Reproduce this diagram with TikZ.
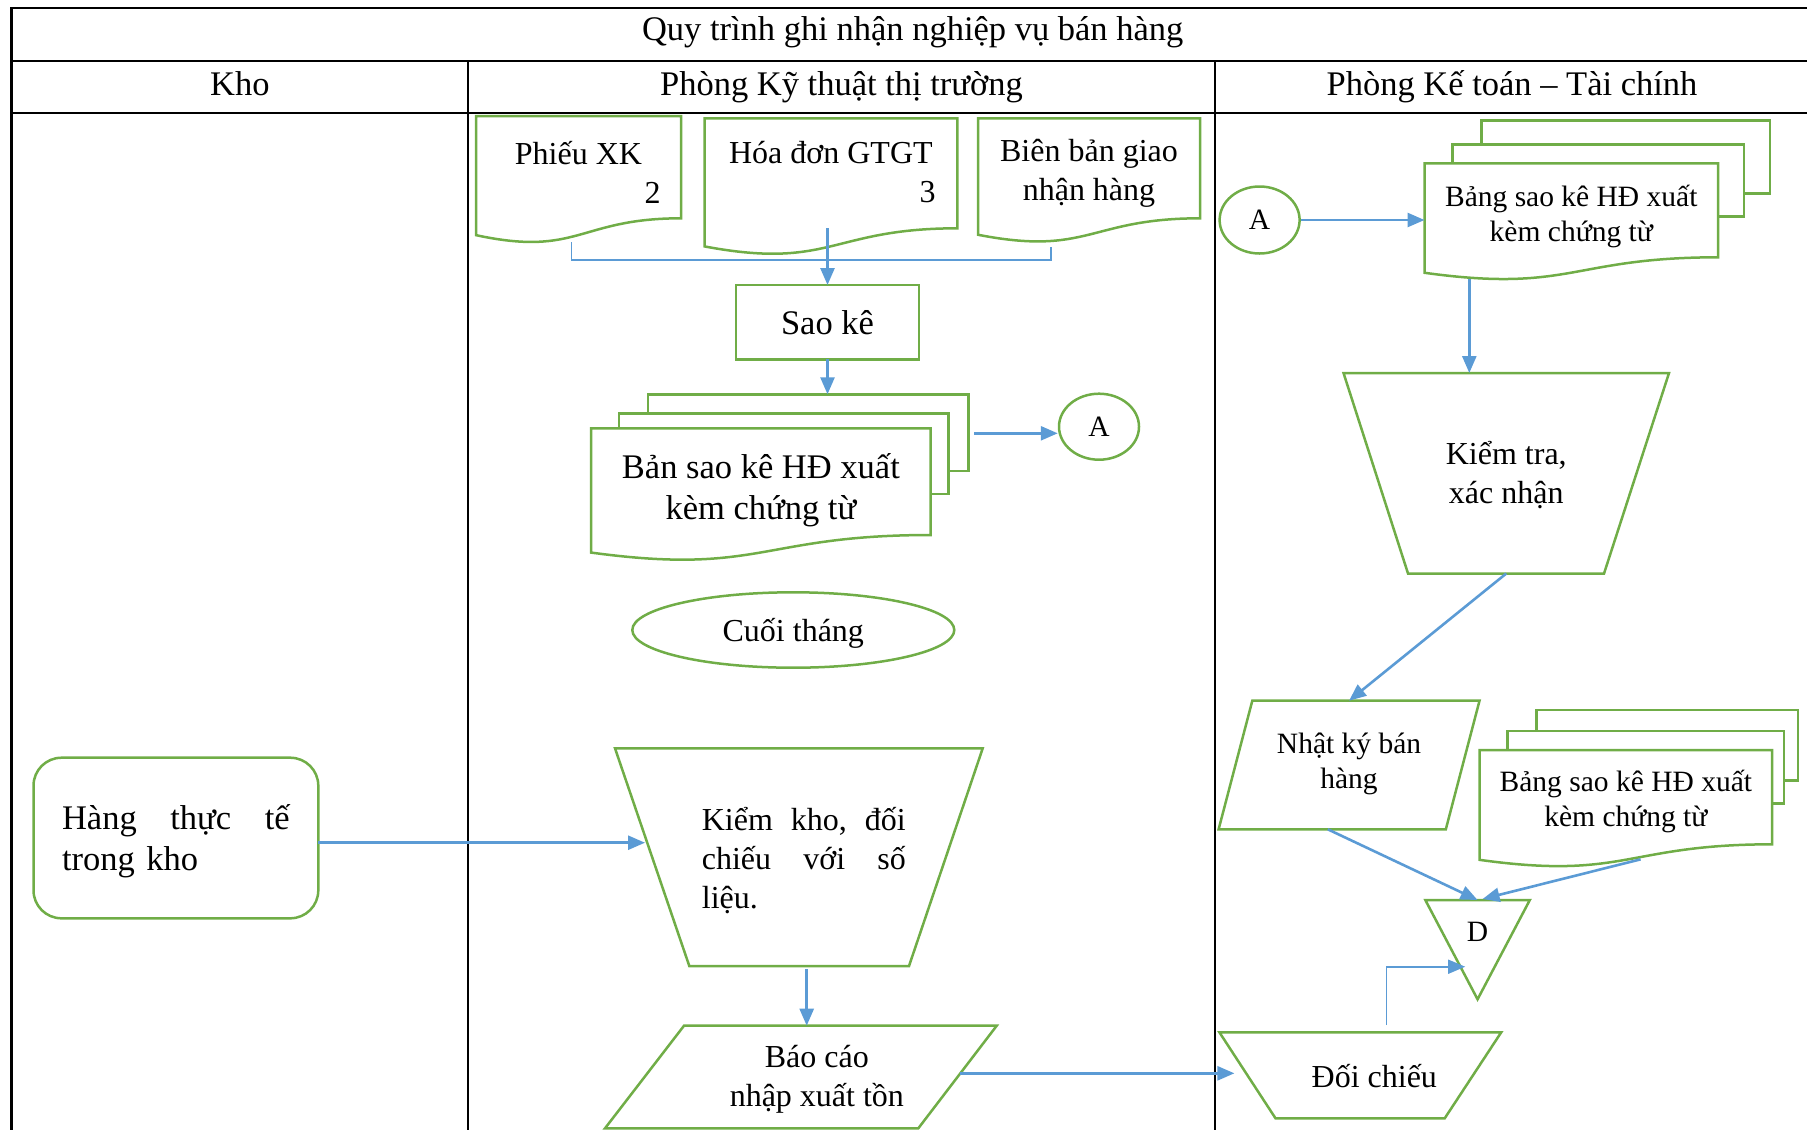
\documentclass[tikz,border=0pt]{standalone}
\usepackage{fontspec}
\setmainfont{Liberation Serif}
\usetikzlibrary{calc,fit,shapes.geometric,arrows.meta}
\definecolor{shapegreen}{HTML}{70AD47}
\definecolor{flowblue}{HTML}{5B9BD5}

\tikzset{
  gridline/.style={draw=black, line width=1.3pt},
  shapeline/.style={draw=shapegreen, line width=1.25pt},
  box/.style={inner sep=0pt, outer sep=0pt},
  label text/.style={inner sep=0pt, align=center},
  conn/.style={draw=flowblue, line width=1.3pt, -{Triangle[length=8.5pt,width=7pt]}},
  thinline/.style={draw=flowblue, line width=0.8pt},
  thinconn/.style={thinline, -{Triangle[length=8.5pt,width=7pt]}},
  fbig/.style={font=\fontsize{17.25}{20.5}\selectfont},
  fmid/.style={font=\fontsize{16}{19.5}\selectfont},
  fsmall/.style={font=\fontsize{14.75}{17.5}\selectfont},
}

% document symbol: straight top and sides, wavy bottom edge
\newcommand\docoutline[1]{%
  \draw[shapeline] let \p1=(#1.north west), \p2=(#1.south east), \n1={\y1-\y2} in
    (\x1,\y1) -- (\x2,\y1) -- (\x2,\y2)
    .. controls ({0.5*(\x1+\x2)},\y2) and ({0.5*(\x1+\x2)},{\y2-0.381*\n1}) ..
    (\x1,{\y2-0.1646*\n1}) -- cycle;}

% stack of documents: two sheets behind the front one
% (#2/#3: right offsets of the middle/back sheet, #4/#5: their top offsets)
\newcommand\multidocoutline[5]{%
  \draw[shapeline] ($(#1.north west)+(28,0)$) -- ($(#1.north west)+(28,-#4)$)
    -- ($(#1.north east)+(#2,-#4)$) -- ($(#1.south east)+(#2,-41)$) -- ($(#1.south east)+(0,-41)$);
  \draw[shapeline] ($(#1.north west)+(57,-#4)$) -- ($(#1.north west)+(57,-#5)$)
    -- ($(#1.north east)+(#3,-#5)$) -- ($(#1.south east)+(#3,-64)$) -- ($(#1.south east)+(#2,-64)$);
  \coordinate (#1-top) at ($(#1.north west)+(0,-#5)$);
  \docoutline{#1}}

% four-sided outline with insets of the corners (tl, tr, br, bl)
\newcommand\quadoutline[5]{%
  \draw[shapeline] ($(#1.north west)+(#2,0)$) -- ($(#1.north east)+(-#3,0)$)
    -- ($(#1.south east)+(-#4,0)$) -- ($(#1.south west)+(#5,0)$) -- cycle;}

\begin{document}
\begin{tikzpicture}[x=0.5pt,y=-0.5pt]
\useasboundingbox (0,0) rectangle (1807,1130);

% swimlane table
\draw[gridline] (1807,8) -- (11.5,8) -- (11.5,1130);
\draw[gridline] (11.5,61) -- (1807,61);
\draw[gridline] (11.5,113) -- (1807,113);
\draw[gridline] (468,61) -- (468,1130);
\draw[gridline] (1215,61) -- (1215,1130);

\node[fbig, anchor=base] (title) at (912.7,40) {Quy trình ghi nhận nghiệp vụ bán hàng};
\node[fbig, anchor=base] (laneKho) at (239.8,95) {Kho};
\node[fbig, anchor=base] (laneKT) at (841.5,95) {Phòng Kỹ thuật thị trường};
\node[fbig, anchor=base] (laneTC) at (1512,95) {Phòng Kế toán – Tài chính};

% lane: Phòng Kỹ thuật thị trường
\node[box, fit={(476,116)(681,218.3)}] (phieu) {};
\docoutline{phieu}
\node[label text, fmid] (phieuText) at ($(phieu.center)+(0,5)$) {Phiếu XK\\\makebox[82.2pt][r]{2}};
\node[box, fit={(704.5,118.3)(957.3,228.3)}] (hoadon) {};
\docoutline{hoadon}
\node[label text, fmid] (hoadonText) at ($(hoadon.center)+(0,-1)$) {Hóa đơn GTGT\\\makebox[104.8pt][r]{3}};
\node[box, fit={(978,118.3)(1200,218.3)}] (bienban) {};
\docoutline{bienban}
\node[label text, fmid] (bienbanText) at ($(bienban.center)+(0,5)$) {Biên bản giao\\nhận hàng};

\node[box, shapeline, fit={(736,285)(919,359.3)}] (saoke) {};
\node[label text, fbig] (saokeText) at ($(saoke.center)+(0,1)$) {Sao kê};
\node[box, fit={(591.1,428.3)(930.7,535)}] (bansao) {};
\multidocoutline{bansao}{18}{38}{15}{34}
\node[label text, fbig] (bansaoText) at ($(bansao.center)+(0,9)$) {Bản sao kê HĐ xuất\\kèm chứng từ};
\node[ellipse, shapeline, fsmall, minimum width=40pt, minimum height=33pt, inner sep=0pt] (aL) at (1099,426.7) {A};
\node[ellipse, shapeline, minimum width=161pt, minimum height=37.7pt, inner sep=0pt] (cuoithang) at (793.3,630) {};
\node[label text, fmid] (cuoithangText) at ($(cuoithang.center)+(0,3)$) {Cuối tháng};

\node[box, fit={(615,748.3)(982.7,966)}] (kiemkho) {};
\quadoutline{kiemkho}{0}{0}{73.7}{74.3}
\node[label text, fmid, text width=102pt, align=left] (kiemkhoText) at ($(kiemkho.center)+(5,3)$)
  {Kiểm\hfill kho,\hfill đối\\chiếu\hfill với\hfill số\\liệu.};
\node[box, fit={(605,1025.7)(996.7,1128.3)}] (baocao) {};
\quadoutline{baocao}{79}{0}{78.4}{0}
\node[label text, fmid] (baocaoText) at ($(baocao.center)+(16,2)$) {Báo cáo\\nhập xuất tồn};

% lane: Kho
\node[box, shapeline, rounded corners=14pt, fit={(33.5,757.7)(318.3,918.3)}] (hang) {};
\node[label text, fbig, text width=113.85pt, align=left] (hangText) at ($(hang.center)+(0,3)$)
  {Hàng\hfill thực\hfill tế\\trong kho};

% lane: Phòng Kế toán – Tài chính
\node[ellipse, shapeline, fsmall, minimum width=40pt, minimum height=33.5pt, inner sep=0pt] (aR) at (1259.6,220) {A};
\node[box, fit={(1424.5,163.3)(1718,257.3)}] (bangsao) {};
\multidocoutline{bangsao}{26}{52}{19}{43}
\node[label text, fsmall] (bangsaoText) at ($(bangsao.center)+(0,6)$) {Bảng sao kê HĐ xuất\\kèm chứng từ};
\node[box, fit={(1343.5,373)(1669,573.5)}] (kiemtra) {};
\quadoutline{kiemtra}{0}{0}{65}{64.5}
\node[label text, fmid] (kiemtraText) at ($(kiemtra.center)+(0,2)$) {Kiểm tra,\\xác nhận};
\node[box, fit={(1218.6,700.7)(1479.5,829.3)}] (nhatky) {};
\quadoutline{nhatky}{33.7}{0}{33.7}{0}
\node[label text, fsmall] (nhatkyText) at ($(nhatky.center)+(0,-1)$) {Nhật ký bán\\hàng};
\node[box, fit={(1479.5,750)(1772.2,844.3)}] (bangsaoB) {};
\multidocoutline{bangsaoB}{12}{26}{19}{40}
\node[label text, fsmall] (bangsaoBText) at ($(bangsaoB.center)+(0,4)$) {Bảng sao kê HĐ xuất\\kèm chứng từ};
\node[box, fit={(1425.3,900)(1529.8,999.3)}] (dtri) {};
\draw[shapeline] (dtri.north west) -- (dtri.north east) -- (dtri.south) -- cycle;
\node[label text, fsmall] (dText) at ($(dtri.center)+(0,-18)$) {D};
\node[box, fit={(1219.4,1032.3)(1501.2,1118.3)}] (doichieu) {};
\quadoutline{doichieu}{0}{0}{56.5}{56.1}
\node[label text, fmid] (doichieuText) at ($(doichieu.center)+(14,1)$) {Đối chiếu};

% connectors
\coordinate (bus) at (828,260);
\coordinate (phieuFoot) at (571.4,242);
\coordinate (bienFoot) at (1050.8,247);
\draw[thinline] (phieuFoot) -- (phieuFoot |- bus) -- (bienFoot |- bus) -- (bienFoot);
\draw[conn] (saoke.north |- hoadon.south) -- (saoke.north);
\draw[conn] (saoke.south) -- (saoke.south |- bansao-top);
\coordinate (bansaoOut) at (974,433.3);
\draw[conn] (bansaoOut) -- (bansaoOut -| aL.west);

\coordinate (hangIn) at (645,842.7);
\draw[conn] (hang.east |- hangIn) -- (hangIn);
\coordinate (kkOut) at (806.7,969.3);
\draw[conn] (kkOut) -- (kkOut |- baocao.north);
\coordinate (bcOut) at (960,1073.3);
\draw[conn] (bcOut) -- ($(bcOut -| doichieu.west)+(15,0)$);

\draw[conn] (aR.east) -- (aR.east -| bangsao.west);
\coordinate (bangsaoFoot) at (1469.3,279);
\draw[conn] (bangsaoFoot) -- (bangsaoFoot |- kiemtra.north);
\draw[conn] (kiemtra.south) -- (nhatky.north);
\coordinate (nhatkyFoot) at (1327.8,829.3);
\draw[conn] (nhatkyFoot) -- (dtri.north);
\coordinate (bangsaoBFoot) at (1640.6,859.3);
\draw[conn] (bangsaoBFoot) -- ($(dtri.north)+(5,-1)$);
\coordinate (doichieuUp) at (1386.6,1025);
\coordinate (dSide) at (1465.2,966.7);
\draw[thinconn] (doichieuUp) |- (dSide);
\end{tikzpicture}
\end{document}
